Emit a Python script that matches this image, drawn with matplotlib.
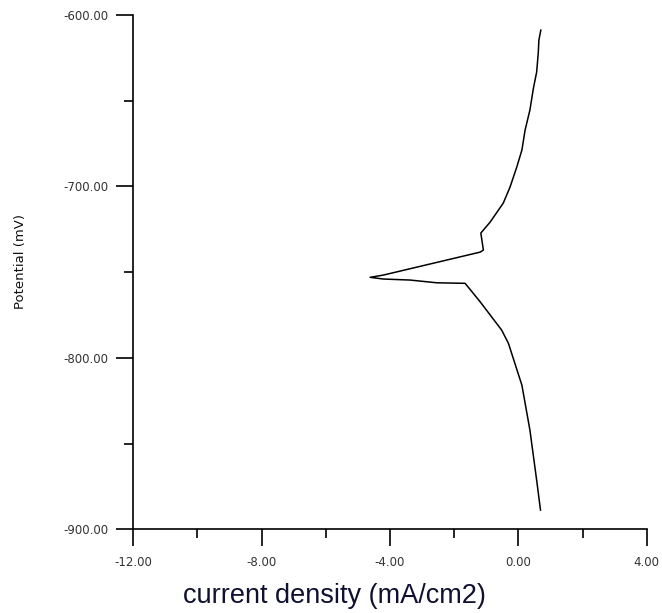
import numpy as np
import matplotlib
matplotlib.use("Agg")
import matplotlib.pyplot as plt
from matplotlib.ticker import MultipleLocator, FormatStrFormatter

# polarisation curve (current density mA/cm2, potential mV)
current = [0.70, 0.64, 0.62, 0.57, 0.47, 0.36, 0.21, 0.11, -0.05, -0.26,
           -0.47, -0.88, -1.17, -1.09, -1.19, -4.21, -4.62, -4.21, -3.37,
           -2.54, -1.66, -1.19, -0.52, -0.31, 0.11, 0.36, 0.57, 0.69]
potential = [-608.8, -614.6, -622.2, -633.3, -642.6, -655.4, -667.1, -678.8,
             -688.7, -700.4, -709.7, -720.8, -727.2, -737.1, -738.3, -751.7,
             -753.0, -754.0, -754.6, -756.2, -756.5, -767.3, -783.8, -791.5,
             -815.9, -842.1, -871.3, -888.8]

fig = plt.figure(figsize=(6.62, 6.13), dpi=100)
ax = fig.add_axes([0.2014, 0.1365, 0.7755, 0.839])

ax.plot(current, potential, color="black", linewidth=1.1)

ax.set_xlim(-12, 4)
ax.set_ylim(-900, -600)

ax.spines["top"].set_visible(False)
ax.spines["right"].set_visible(False)
ax.spines["left"].set_linewidth(1.2)
ax.spines["bottom"].set_linewidth(1.2)

ax.xaxis.set_major_locator(MultipleLocator(4))
ax.xaxis.set_minor_locator(MultipleLocator(2))
ax.yaxis.set_major_locator(MultipleLocator(100))
ax.yaxis.set_minor_locator(MultipleLocator(50))
ax.xaxis.set_major_formatter(FormatStrFormatter("%.2f"))
ax.yaxis.set_major_formatter(FormatStrFormatter("%.2f"))

ax.tick_params(which="major", direction="out", length=12, width=1.2,
               labelsize=8.5, labelcolor="#333333", pad=6)
ax.tick_params(axis="x", which="major", pad=7)
ax.tick_params(which="minor", direction="out", length=6.5, width=1.2)

ax.set_xlabel("current density (mA/cm2)", family="Liberation Sans",
              fontsize=19.5, color="#101030")
ax.xaxis.set_label_coords(0.391, -0.104)
ax.set_ylabel("Potential (mV)", fontsize=9.5, color="#111111")
ax.yaxis.set_label_coords(-0.207, 0.52)

fig.savefig("out.png", dpi=100)
